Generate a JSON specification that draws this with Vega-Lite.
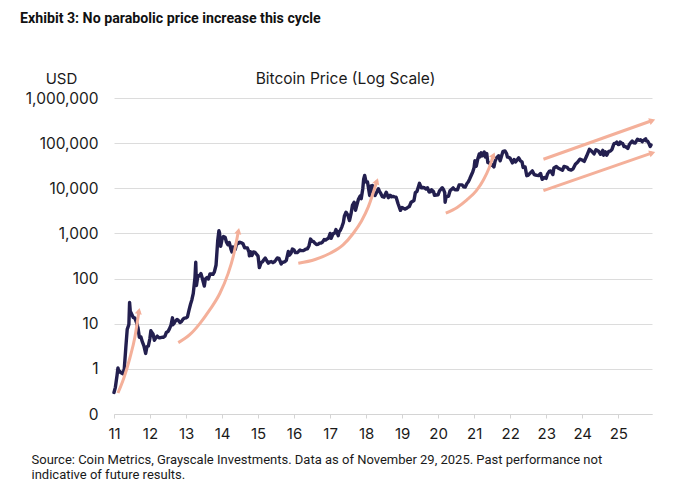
{
  "$schema": "https://vega.github.io/schema/vega-lite/v6.json",
  "width": 538,
  "height": 316,
  "autosize": {"type": "none"},
  "padding": {"left": 114, "top": 98, "right": 28, "bottom": 70},
  "background": "white",
  "config": {
    "view": {"stroke": null},
    "font": "Inter",
    "axis": {"labelFont": "Inter", "titleFont": "Inter", "labelColor": "#1a1a1a", "titleColor": "#1a1a1a"}
  },
  "title": {
    "text": "Exhibit 3: No parabolic price increase this cycle",
    "anchor": "start",
    "frame": "group",
    "dx": -94,
    "offset": 45,
    "font": "Roboto",
    "fontSize": 14.2,
    "fontWeight": "bold",
    "color": "#111111"
  },
  "datasets": {
    "btc": [
      {"date": "2011-01-01", "price": 0.3}, {"date": "2011-01-15", "price": 0.39}, {"date": "2011-02-01", "price": 0.72},
      {"date": "2011-02-10", "price": 1.05}, {"date": "2011-02-20", "price": 0.85}, {"date": "2011-03-01", "price": 0.88},
      {"date": "2011-03-15", "price": 0.82}, {"date": "2011-04-01", "price": 0.78}, {"date": "2011-04-15", "price": 1.0},
      {"date": "2011-05-01", "price": 3.0}, {"date": "2011-05-15", "price": 7.5}, {"date": "2011-06-01", "price": 9.6},
      {"date": "2011-06-08", "price": 29.6}, {"date": "2011-06-15", "price": 19}, {"date": "2011-07-01", "price": 16},
      {"date": "2011-07-15", "price": 13.8}, {"date": "2011-08-01", "price": 13.3}, {"date": "2011-08-15", "price": 11},
      {"date": "2011-09-01", "price": 8.2}, {"date": "2011-09-15", "price": 5.0}, {"date": "2011-10-01", "price": 5.1},
      {"date": "2011-10-15", "price": 4.0}, {"date": "2011-11-01", "price": 3.2}, {"date": "2011-11-18", "price": 2.2},
      {"date": "2011-12-01", "price": 3.1}, {"date": "2011-12-15", "price": 3.2}, {"date": "2011-12-31", "price": 4.7},
      {"date": "2012-01-10", "price": 7.0}, {"date": "2012-01-20", "price": 6.4}, {"date": "2012-02-01", "price": 5.9},
      {"date": "2012-02-15", "price": 4.3}, {"date": "2012-03-01", "price": 4.9}, {"date": "2012-03-15", "price": 5.3},
      {"date": "2012-04-01", "price": 4.9}, {"date": "2012-04-15", "price": 4.9}, {"date": "2012-05-01", "price": 5.0},
      {"date": "2012-05-15", "price": 5.0}, {"date": "2012-06-01", "price": 5.3}, {"date": "2012-06-15", "price": 6.4},
      {"date": "2012-07-01", "price": 6.7}, {"date": "2012-07-15", "price": 7.6}, {"date": "2012-08-01", "price": 9.3},
      {"date": "2012-08-16", "price": 13.5}, {"date": "2012-08-20", "price": 9.5}, {"date": "2012-09-01", "price": 10.2},
      {"date": "2012-09-15", "price": 11.5}, {"date": "2012-10-01", "price": 12.4}, {"date": "2012-10-15", "price": 11.8},
      {"date": "2012-11-01", "price": 10.6}, {"date": "2012-11-15", "price": 11.1}, {"date": "2012-12-01", "price": 12.6},
      {"date": "2012-12-15", "price": 13.3},
      {"date": "2013-01-01", "price": 13.5}, {"date": "2013-01-15", "price": 14.2}, {"date": "2013-02-01", "price": 20.5},
      {"date": "2013-02-15", "price": 27}, {"date": "2013-03-01", "price": 34}, {"date": "2013-03-15", "price": 47},
      {"date": "2013-04-01", "price": 104}, {"date": "2013-04-09", "price": 230}, {"date": "2013-04-16", "price": 70},
      {"date": "2013-05-01", "price": 116}, {"date": "2013-05-15", "price": 114}, {"date": "2013-06-01", "price": 129},
      {"date": "2013-06-15", "price": 100}, {"date": "2013-07-05", "price": 68}, {"date": "2013-07-15", "price": 98},
      {"date": "2013-08-01", "price": 105}, {"date": "2013-08-15", "price": 98}, {"date": "2013-09-01", "price": 127},
      {"date": "2013-09-15", "price": 126}, {"date": "2013-10-01", "price": 124}, {"date": "2013-10-15", "price": 140},
      {"date": "2013-11-01", "price": 200}, {"date": "2013-11-18", "price": 700}, {"date": "2013-11-30", "price": 1150},
      {"date": "2013-12-06", "price": 1050}, {"date": "2013-12-18", "price": 520}, {"date": "2013-12-31", "price": 740},
      {"date": "2014-01-15", "price": 850}, {"date": "2014-02-01", "price": 820}, {"date": "2014-02-15", "price": 640},
      {"date": "2014-03-01", "price": 560}, {"date": "2014-03-15", "price": 630}, {"date": "2014-04-01", "price": 450},
      {"date": "2014-04-11", "price": 390}, {"date": "2014-04-20", "price": 500}, {"date": "2014-05-01", "price": 450},
      {"date": "2014-05-15", "price": 445}, {"date": "2014-06-01", "price": 650}, {"date": "2014-06-15", "price": 600},
      {"date": "2014-07-01", "price": 640}, {"date": "2014-07-15", "price": 620}, {"date": "2014-08-01", "price": 590},
      {"date": "2014-08-18", "price": 480}, {"date": "2014-09-01", "price": 480}, {"date": "2014-09-15", "price": 475},
      {"date": "2014-10-01", "price": 385}, {"date": "2014-10-05", "price": 320}, {"date": "2014-10-15", "price": 395},
      {"date": "2014-11-01", "price": 325}, {"date": "2014-11-15", "price": 390}, {"date": "2014-12-01", "price": 380},
      {"date": "2014-12-15", "price": 350},
      {"date": "2015-01-01", "price": 315}, {"date": "2015-01-14", "price": 175}, {"date": "2015-02-01", "price": 225},
      {"date": "2015-02-15", "price": 235}, {"date": "2015-03-01", "price": 260}, {"date": "2015-03-15", "price": 285},
      {"date": "2015-04-01", "price": 245}, {"date": "2015-04-15", "price": 220}, {"date": "2015-05-01", "price": 235},
      {"date": "2015-05-15", "price": 238}, {"date": "2015-06-01", "price": 225}, {"date": "2015-06-15", "price": 235},
      {"date": "2015-07-01", "price": 258}, {"date": "2015-07-15", "price": 285}, {"date": "2015-08-01", "price": 280},
      {"date": "2015-08-24", "price": 210}, {"date": "2015-09-01", "price": 228}, {"date": "2015-09-15", "price": 230},
      {"date": "2015-10-01", "price": 237}, {"date": "2015-10-15", "price": 255}, {"date": "2015-11-04", "price": 400},
      {"date": "2015-11-15", "price": 330}, {"date": "2015-12-01", "price": 365}, {"date": "2015-12-15", "price": 450},
      {"date": "2016-01-01", "price": 430}, {"date": "2016-01-15", "price": 375}, {"date": "2016-02-01", "price": 375},
      {"date": "2016-02-15", "price": 400}, {"date": "2016-03-01", "price": 430}, {"date": "2016-03-15", "price": 415},
      {"date": "2016-04-01", "price": 415}, {"date": "2016-04-15", "price": 430}, {"date": "2016-05-01", "price": 450},
      {"date": "2016-05-15", "price": 455}, {"date": "2016-06-01", "price": 535}, {"date": "2016-06-16", "price": 750},
      {"date": "2016-07-01", "price": 670}, {"date": "2016-07-15", "price": 665}, {"date": "2016-08-01", "price": 605},
      {"date": "2016-08-15", "price": 570}, {"date": "2016-09-01", "price": 575}, {"date": "2016-09-15", "price": 610},
      {"date": "2016-10-01", "price": 615}, {"date": "2016-10-15", "price": 640}, {"date": "2016-11-01", "price": 730},
      {"date": "2016-11-15", "price": 710}, {"date": "2016-12-01", "price": 755}, {"date": "2016-12-15", "price": 780},
      {"date": "2017-01-01", "price": 1000}, {"date": "2017-01-11", "price": 780}, {"date": "2017-02-01", "price": 990},
      {"date": "2017-02-15", "price": 1010}, {"date": "2017-03-01", "price": 1220}, {"date": "2017-03-24", "price": 890},
      {"date": "2017-04-01", "price": 1080}, {"date": "2017-04-15", "price": 1180}, {"date": "2017-05-01", "price": 1420},
      {"date": "2017-05-15", "price": 1750}, {"date": "2017-05-25", "price": 2400}, {"date": "2017-06-11", "price": 2950},
      {"date": "2017-07-01", "price": 2500}, {"date": "2017-07-16", "price": 1930}, {"date": "2017-08-01", "price": 2730},
      {"date": "2017-08-15", "price": 4200}, {"date": "2017-09-01", "price": 4900}, {"date": "2017-09-15", "price": 3250},
      {"date": "2017-10-01", "price": 4400}, {"date": "2017-10-15", "price": 5700}, {"date": "2017-11-01", "price": 6700},
      {"date": "2017-11-12", "price": 5900}, {"date": "2017-11-28", "price": 9800}, {"date": "2017-12-07", "price": 16000},
      {"date": "2017-12-17", "price": 19300}, {"date": "2017-12-31", "price": 13800},
      {"date": "2018-01-15", "price": 13800}, {"date": "2018-02-06", "price": 6900}, {"date": "2018-02-20", "price": 11300},
      {"date": "2018-03-05", "price": 11500}, {"date": "2018-03-15", "price": 8300}, {"date": "2018-04-01", "price": 6900},
      {"date": "2018-04-15", "price": 8000}, {"date": "2018-05-05", "price": 9800}, {"date": "2018-05-15", "price": 8700},
      {"date": "2018-06-01", "price": 7500}, {"date": "2018-06-15", "price": 6500}, {"date": "2018-07-01", "price": 6350},
      {"date": "2018-07-24", "price": 8200}, {"date": "2018-08-14", "price": 6200}, {"date": "2018-09-01", "price": 7000},
      {"date": "2018-09-15", "price": 6500}, {"date": "2018-10-01", "price": 6600}, {"date": "2018-10-15", "price": 6450},
      {"date": "2018-11-01", "price": 6350}, {"date": "2018-11-20", "price": 4600}, {"date": "2018-12-15", "price": 3250},
      {"date": "2018-12-31", "price": 3750},
      {"date": "2019-01-15", "price": 3600}, {"date": "2019-02-01", "price": 3450}, {"date": "2019-02-15", "price": 3600},
      {"date": "2019-03-01", "price": 3800}, {"date": "2019-03-15", "price": 3950}, {"date": "2019-04-02", "price": 4900},
      {"date": "2019-04-15", "price": 5100}, {"date": "2019-05-01", "price": 5350}, {"date": "2019-05-15", "price": 8000},
      {"date": "2019-06-01", "price": 8550}, {"date": "2019-06-26", "price": 12900}, {"date": "2019-07-15", "price": 10200},
      {"date": "2019-08-01", "price": 10400}, {"date": "2019-08-15", "price": 10300}, {"date": "2019-09-01", "price": 9600},
      {"date": "2019-09-15", "price": 10300}, {"date": "2019-10-01", "price": 8300}, {"date": "2019-10-15", "price": 8350},
      {"date": "2019-10-26", "price": 9250}, {"date": "2019-11-15", "price": 8500}, {"date": "2019-11-25", "price": 7000},
      {"date": "2019-12-15", "price": 7100},
      {"date": "2020-01-01", "price": 7200}, {"date": "2020-01-15", "price": 8800}, {"date": "2020-02-12", "price": 10300},
      {"date": "2020-02-25", "price": 9300}, {"date": "2020-03-08", "price": 8000}, {"date": "2020-03-12", "price": 4900},
      {"date": "2020-03-20", "price": 6200}, {"date": "2020-04-01", "price": 6600}, {"date": "2020-04-15", "price": 6650},
      {"date": "2020-05-01", "price": 8800}, {"date": "2020-05-15", "price": 9400}, {"date": "2020-06-01", "price": 10200},
      {"date": "2020-06-15", "price": 9400}, {"date": "2020-07-01", "price": 9230}, {"date": "2020-07-15", "price": 9200},
      {"date": "2020-08-01", "price": 11800}, {"date": "2020-08-15", "price": 11900}, {"date": "2020-09-01", "price": 11900},
      {"date": "2020-09-15", "price": 10800}, {"date": "2020-10-01", "price": 10600}, {"date": "2020-10-21", "price": 12900},
      {"date": "2020-11-01", "price": 13800}, {"date": "2020-11-15", "price": 15900}, {"date": "2020-12-01", "price": 19200},
      {"date": "2020-12-17", "price": 23000}, {"date": "2020-12-31", "price": 29000},
      {"date": "2021-01-08", "price": 40800}, {"date": "2021-01-22", "price": 30800}, {"date": "2021-02-08", "price": 46400},
      {"date": "2021-02-21", "price": 57500}, {"date": "2021-03-01", "price": 49600}, {"date": "2021-03-13", "price": 61000},
      {"date": "2021-03-25", "price": 52300}, {"date": "2021-04-13", "price": 63500}, {"date": "2021-04-25", "price": 49000},
      {"date": "2021-05-08", "price": 58800}, {"date": "2021-05-19", "price": 37000}, {"date": "2021-06-01", "price": 36700},
      {"date": "2021-06-22", "price": 32500}, {"date": "2021-07-01", "price": 33500}, {"date": "2021-07-20", "price": 29800},
      {"date": "2021-08-01", "price": 39900}, {"date": "2021-08-15", "price": 47000}, {"date": "2021-09-06", "price": 52600},
      {"date": "2021-09-21", "price": 40700}, {"date": "2021-10-01", "price": 48200}, {"date": "2021-10-20", "price": 66000},
      {"date": "2021-11-09", "price": 67500}, {"date": "2021-11-25", "price": 58900}, {"date": "2021-12-04", "price": 49000},
      {"date": "2021-12-15", "price": 48800}, {"date": "2021-12-31", "price": 46300},
      {"date": "2022-01-10", "price": 41800}, {"date": "2022-01-24", "price": 36600}, {"date": "2022-02-10", "price": 43500},
      {"date": "2022-02-24", "price": 38300}, {"date": "2022-03-28", "price": 47100}, {"date": "2022-04-15", "price": 40500},
      {"date": "2022-05-01", "price": 38500}, {"date": "2022-05-12", "price": 29000}, {"date": "2022-06-01", "price": 29800},
      {"date": "2022-06-18", "price": 19000}, {"date": "2022-07-01", "price": 19300}, {"date": "2022-07-15", "price": 20800},
      {"date": "2022-08-14", "price": 24300}, {"date": "2022-09-01", "price": 20100}, {"date": "2022-09-15", "price": 19700},
      {"date": "2022-10-01", "price": 19300}, {"date": "2022-10-15", "price": 19100}, {"date": "2022-11-05", "price": 21300},
      {"date": "2022-11-21", "price": 15800}, {"date": "2022-12-15", "price": 17400}, {"date": "2022-12-31", "price": 16550},
      {"date": "2023-01-15", "price": 20900}, {"date": "2023-02-01", "price": 23700}, {"date": "2023-02-15", "price": 24300},
      {"date": "2023-03-10", "price": 20200}, {"date": "2023-03-20", "price": 28200}, {"date": "2023-04-14", "price": 30400},
      {"date": "2023-05-01", "price": 28100}, {"date": "2023-06-15", "price": 25100}, {"date": "2023-07-01", "price": 30600},
      {"date": "2023-08-01", "price": 29200}, {"date": "2023-08-18", "price": 26100}, {"date": "2023-09-11", "price": 25200},
      {"date": "2023-10-01", "price": 27000}, {"date": "2023-10-24", "price": 34000}, {"date": "2023-11-15", "price": 37800},
      {"date": "2023-12-08", "price": 44200}, {"date": "2023-12-31", "price": 42300},
      {"date": "2024-01-22", "price": 39500}, {"date": "2024-02-15", "price": 51800}, {"date": "2024-03-14", "price": 73100},
      {"date": "2024-03-25", "price": 70000}, {"date": "2024-04-15", "price": 63400}, {"date": "2024-05-01", "price": 57700},
      {"date": "2024-05-20", "price": 71400}, {"date": "2024-06-15", "price": 66000}, {"date": "2024-07-05", "price": 56600},
      {"date": "2024-07-28", "price": 69200}, {"date": "2024-08-05", "price": 54000}, {"date": "2024-08-25", "price": 64100},
      {"date": "2024-09-06", "price": 53900}, {"date": "2024-09-27", "price": 65900}, {"date": "2024-10-15", "price": 67000},
      {"date": "2024-10-29", "price": 72700}, {"date": "2024-11-13", "price": 90500}, {"date": "2024-11-22", "price": 99000},
      {"date": "2024-12-05", "price": 98800}, {"date": "2024-12-17", "price": 106100}, {"date": "2024-12-31", "price": 93400},
      {"date": "2025-01-13", "price": 94500}, {"date": "2025-01-21", "price": 106000}, {"date": "2025-02-01", "price": 100600},
      {"date": "2025-02-15", "price": 97500}, {"date": "2025-02-28", "price": 84400}, {"date": "2025-03-15", "price": 84000},
      {"date": "2025-04-08", "price": 76300}, {"date": "2025-04-25", "price": 94700}, {"date": "2025-05-10", "price": 104000},
      {"date": "2025-05-22", "price": 111600}, {"date": "2025-06-05", "price": 101500}, {"date": "2025-06-22", "price": 101000},
      {"date": "2025-07-14", "price": 122000}, {"date": "2025-08-01", "price": 115000}, {"date": "2025-08-14", "price": 119000},
      {"date": "2025-09-01", "price": 108000}, {"date": "2025-09-15", "price": 115500}, {"date": "2025-10-06", "price": 124700},
      {"date": "2025-10-11", "price": 113000}, {"date": "2025-10-25", "price": 111000}, {"date": "2025-11-05", "price": 101500},
      {"date": "2025-11-21", "price": 84500}, {"date": "2025-11-29", "price": 90800}
    ],
    "arrows": [
      {"arrow": 1, "date": "2011-02-10", "price": 0.292}, {"arrow": 1, "date": "2011-04-11", "price": 0.629},
      {"arrow": 1, "date": "2011-06-11", "price": 1.74}, {"arrow": 1, "date": "2011-08-01", "price": 5.09},
      {"arrow": 1, "date": "2011-09-11", "price": 19.2},
      {"arrow": 2, "date": "2012-10-14", "price": 3.81}, {"arrow": 2, "date": "2013-02-10", "price": 5.78},
      {"arrow": 2, "date": "2013-05-22", "price": 10.2}, {"arrow": 2, "date": "2013-09-01", "price": 20.7},
      {"arrow": 2, "date": "2013-12-10", "price": 47.3}, {"arrow": 2, "date": "2014-03-02", "price": 127},
      {"arrow": 2, "date": "2014-04-24", "price": 306}, {"arrow": 2, "date": "2014-06-16", "price": 1135},
      {"arrow": 3, "date": "2016-02-13", "price": 218}, {"arrow": 3, "date": "2016-08-01", "price": 265},
      {"arrow": 3, "date": "2017-01-01", "price": 364}, {"arrow": 3, "date": "2017-05-12", "price": 556},
      {"arrow": 3, "date": "2017-08-24", "price": 1009}, {"arrow": 3, "date": "2017-11-15", "price": 1890},
      {"arrow": 3, "date": "2018-01-24", "price": 3920}, {"arrow": 3, "date": "2018-04-20", "price": 14460},
      {"arrow": 4, "date": "2020-03-19", "price": 2800}, {"arrow": 4, "date": "2020-07-12", "price": 3764},
      {"arrow": 4, "date": "2020-10-19", "price": 5520}, {"arrow": 4, "date": "2021-01-21", "price": 8730},
      {"arrow": 4, "date": "2021-04-04", "price": 15300}, {"arrow": 4, "date": "2021-06-01", "price": 28200},
      {"arrow": 4, "date": "2021-07-15", "price": 53900},
      {"arrow": 5, "date": "2022-12-04", "price": 44000}, {"arrow": 5, "date": "2025-12-12", "price": 317000},
      {"arrow": 6, "date": "2022-12-04", "price": 8870}, {"arrow": 6, "date": "2025-12-12", "price": 60700}
    ],
    "heads": [
      {"arrow": 1, "date": "2011-09-11", "price": 19.2},
      {"arrow": 2, "date": "2014-06-16", "price": 1135},
      {"arrow": 3, "date": "2018-04-20", "price": 14460},
      {"arrow": 4, "date": "2021-07-15", "price": 53900},
      {"arrow": 5, "date": "2025-12-12", "price": 317000},
      {"arrow": 6, "date": "2025-12-12", "price": 60700}
    ]
  },
  "layer": [
    {
      "data": {"name": "btc"},
      "mark": {"type": "line", "color": "#231f4f", "strokeWidth": 3.4, "strokeJoin": "round", "strokeCap": "round"},
      "encoding": {
        "x": {
          "field": "date", "type": "temporal",
          "scale": {"domain": ["2011-01-01", "2025-12-09"]},
          "axis": {
            "orient": "bottom",
            "format": "%y",
            "tickCount": {"interval": "year", "step": 1},
            "grid": false,
            "domain": true, "domainColor": "#d4d4d4", "domainWidth": 1,
            "ticks": true, "tickColor": "#d4d4d4", "tickSize": 4,
            "labelFontSize": 15, "labelPadding": 8, "labelFlush": false,
            "title": ["Source: Coin Metrics, Grayscale Investments. Data as of November 29, 2025. Past performance not", "indicative of future results."],
            "titleFont": "Roboto", "titleFontSize": 13, "titleFontWeight": "normal",
            "titleAlign": "left", "titleAnchor": "start", "titleBaseline": "alphabetic",
            "titleX": -83, "titleY": 49, "titleLineHeight": 15
          }
        },
        "y": {
          "field": "price", "type": "quantitative",
          "scale": {"type": "log", "domain": [0.1, 1000000]},
          "axis": {
            "values": [0.1, 1, 10, 100, 1000, 10000, 100000, 1000000],
            "labelExpr": "datum.value < 1 ? '0' : format(datum.value, ',')",
            "grid": true, "gridColor": "#dcdcdc", "gridWidth": 1,
            "domain": false, "ticks": false,
            "labelFontSize": 15.5, "labelPadding": 16,
            "title": "USD", "titleAngle": 0, "titleFontSize": 15, "titleFontWeight": "normal",
            "titleAlign": "center", "titleBaseline": "alphabetic", "titleX": -53, "titleY": -15
          }
        }
      }
    },
    {
      "data": {"name": "arrows"},
      "mark": {"type": "line", "color": "#f4b09a", "strokeWidth": 3, "strokeCap": "butt", "interpolate": "monotone"},
      "encoding": {
        "x": {
          "field": "date", "type": "temporal",
          "scale": {"domain": ["2011-01-01", "2025-12-09"]},
          "axis": {
            "orient": "top", "labels": false, "ticks": false, "domain": false, "grid": false,
            "title": "Bitcoin Price (Log Scale)", "titleFontSize": 15.5, "titleFontWeight": "normal",
            "titleAlign": "center", "titleBaseline": "alphabetic", "titleX": 231, "titleY": -15
          }
        },
        "y": {"field": "price", "type": "quantitative", "scale": {"type": "log", "domain": [0.1, 1000000]}},
        "detail": {"field": "arrow", "type": "nominal"}
      }
    },
    {
      "data": {"name": "heads"},
      "mark": {"type": "point", "shape": "triangle-up", "filled": true, "color": "#f4b09a", "opacity": 1, "size": 50},
      "encoding": {
        "x": {"field": "date", "type": "temporal", "scale": {"domain": ["2011-01-01", "2025-12-09"]}, "axis": null},
        "y": {"field": "price", "type": "quantitative", "scale": {"type": "log", "domain": [0.1, 1000000]}},
        "angle": {
          "field": "arrow", "type": "quantitative", "legend": null,
          "scale": {"type": "threshold", "domain": [1.5, 2.5, 3.5, 4.5, 5.5], "range": [12, 12, 20, 25, 70.5, 71]}
        }
      }
    }
  ],
  "resolve": {"axis": {"x": "independent"}}
}
